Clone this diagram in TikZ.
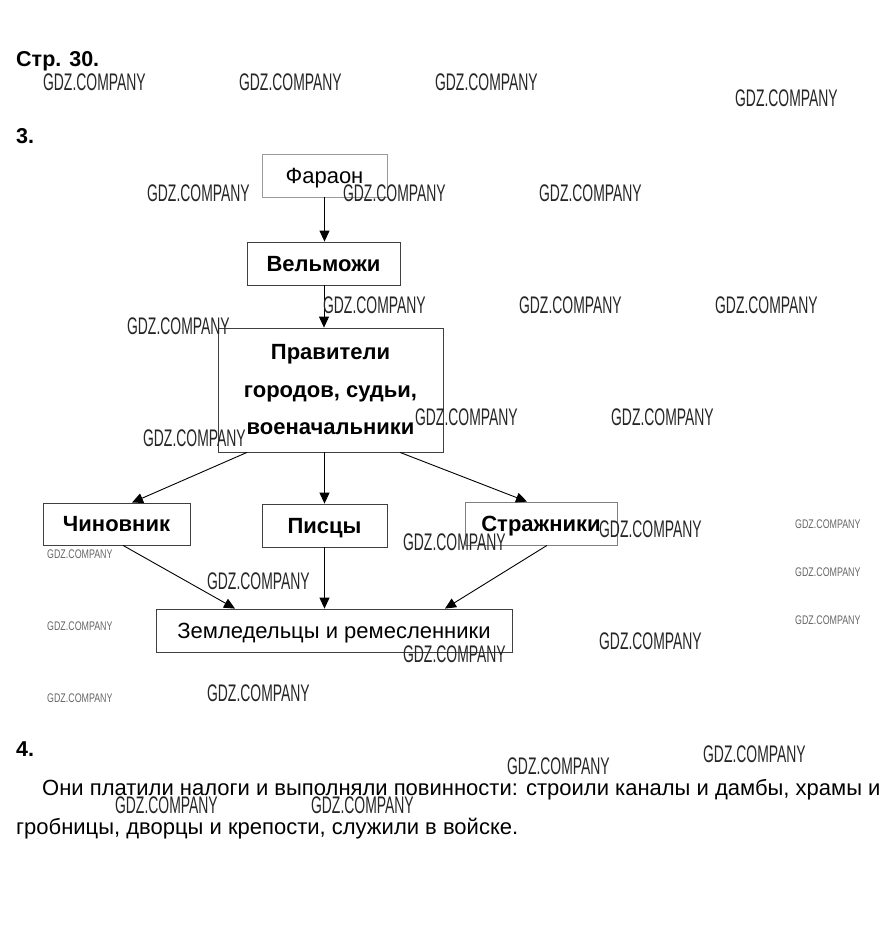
\documentclass[tikz,border=0pt]{standalone}
\usepackage{fontspec}
\setmainfont{Liberation Sans}
\usetikzlibrary{arrows.meta}
\tikzset{
  box/.style={draw=black!75, line width=0.8pt, inner sep=0pt, align=center, font=\fontsize{22}{37.5}\selectfont},
  bbox/.style={box, font=\fontsize{22}{37.5}\selectfont\bfseries},
  one/.style={text height=15.5pt, text depth=0pt},
  arr/.style={line width=0.9pt, -{Triangle[length=11pt,width=10pt]}},
  wm/.style={anchor=west, inner sep=0pt, text=black!85, font=\fontsize{24}{24}\selectfont, xscale=0.58, transform shape},
  wms/.style={anchor=west, inner sep=0pt, text=black!60, font=\fontsize{12.5}{12}\selectfont, xscale=0.71, transform shape},
  head/.style={anchor=base west, inner sep=0pt, font=\fontsize{21.5}{21.5}\selectfont\bfseries},
  para/.style={anchor=base west, inner sep=0pt, font=\fontsize{22}{22}\selectfont}
}
\begin{document}
\begin{tikzpicture}[x=1pt,y=-1pt]
\useasboundingbox (0,0) rectangle (889,946);
% headings
\node[head] (h1) at (16,66) {Стр. 30.};
\node[head] (h3) at (16,143) {3.};
\node[head] (h4) at (16,756) {4.};
% boxes
\node[box, one, minimum width=125pt, minimum height=43pt, draw=black!40] (far) at (324.5,175.5) {Фараон};
\node[bbox, one, minimum width=153pt, minimum height=43pt] (vel) at (323.5,263.5) {Вельможи};
\node[bbox, minimum width=225pt, minimum height=124pt] (prav) at (330.5,390) {Правители\\городов, судьи,\\военачальники};
\node[bbox, one, minimum width=147pt, minimum height=42pt] (chin) at (116.5,524) {Чиновник};
\node[bbox, one, minimum width=125pt, minimum height=43pt] (pis) at (324.5,525.5) {Писцы};
\node[bbox, one, minimum width=152pt, minimum height=43pt, draw=black!50] (str) at (541,523.5) {Стражники};
\node[box, one, minimum width=356pt, minimum height=43pt] (zem) at (334,630.5) {Земледельцы и ремесленники};
% arrows
\draw[arr] (far.south) -- (far.south |- vel.north);
\draw[arr] ([xshift=0.5pt]vel.south) -- ([xshift=0.5pt]vel.south |- prav.north);
\draw[arr] ([xshift=-83.5pt]prav.south) -- ([xshift=15.5pt]chin.north);
\draw[arr] (pis.north |- prav.south) -- (pis.north);
\draw[arr] ([xshift=69.5pt]prav.south) -- ([xshift=-14pt]str.north);
\draw[arr] ([xshift=6.5pt]chin.south) -- ([xshift=-99pt]zem.north);
\draw[arr] (pis.south) -- (pis.south |- zem.north);
\draw[arr] ([xshift=6pt]str.south) -- ([xshift=111pt]zem.north);
% paragraph
\node[para] (p1) at (42,795) {Они платили налоги и выполняли повинности: строили каналы и дамбы, храмы и};
\node[para] (p2) at (16,834) {гробницы, дворцы и крепости, служили в войске.};
% watermarks
\foreach \x/\y [count=\i] in {43/82,239/82,435/82,735/98,147/193,343/193,539/193,323/305,519/305,715/305,127/326,415/417,611/417,143/438,599/529,403/542,207/581,599/641,403/654,207/693,507/766,703/754,115/805,311/805}
  \node[wm] (w\i) at (\x,\y) {GDZ.COMPANY};
\foreach \x/\y [count=\i] in {47/554,47/626,47/698,795/524,795/572,795/620}
  \node[wms] (s\i) at (\x,\y) {GDZ.COMPANY};
\end{tikzpicture}
\end{document}
